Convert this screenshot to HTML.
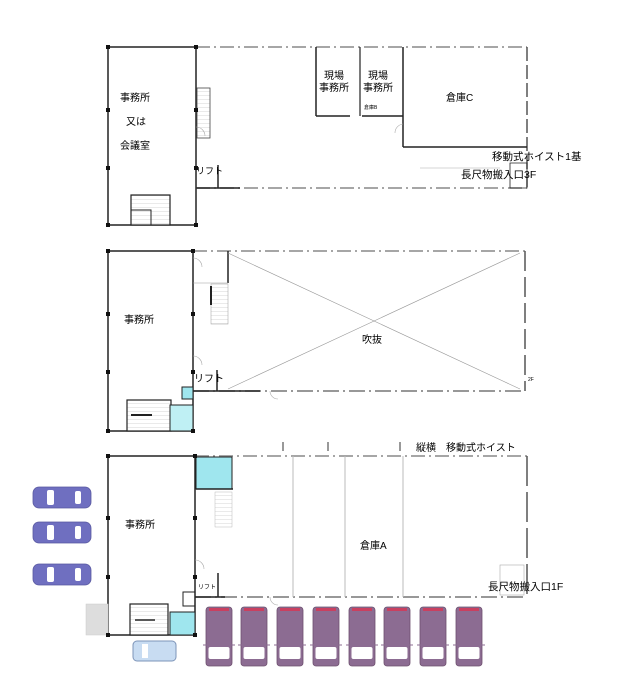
<!DOCTYPE html>
<html><head><meta charset="utf-8">
<style>
html,body{margin:0;padding:0;background:#fff;}
svg{display:block;}
text{font-family:"Liberation Sans","Noto Sans CJK JP",sans-serif;fill:#000;}
</style></head>
<body>
<svg width="620" height="691" viewBox="0 0 620 691" xmlns="http://www.w3.org/2000/svg">
<defs>
  <g id="bcar">
    <rect x="0" y="0" width="58" height="21" rx="6" fill="#6f6fc0" stroke="#5a5aa0" stroke-width="0.8"/>
    <rect x="14" y="3" width="7" height="15" rx="2" fill="#fff"/>
    <rect x="42" y="4" width="6" height="13" rx="2" fill="#fff"/>
  </g>
  <g id="pcar">
    <rect x="0" y="0" width="26" height="59" rx="3" fill="#8c6c92" stroke="#6e506f" stroke-width="0.8"/>
    <rect x="3" y="1" width="20" height="3" fill="#c94060"/>
    <rect x="2.5" y="40" width="21" height="12" rx="2" fill="#fff"/>
    <line x1="-3" y1="38" x2="29" y2="38" stroke="#8c6c92" stroke-width="1"/>
  </g>
  <pattern id="stair" width="5" height="4" patternUnits="userSpaceOnUse">
    <rect width="5" height="4" fill="#fff"/>
    <line x1="0" y1="4" x2="5" y2="4" stroke="#bbb" stroke-width="0.6"/>
  </pattern>
</defs>

<g stroke="#222" fill="none">
<!-- ===== 3F ===== -->
<rect x="108" y="47" width="88" height="178" stroke-width="1.5"/>
<line x1="196" y1="47" x2="527" y2="47" stroke="#888" stroke-width="1.5" stroke-dasharray="14 4 2 4"/>
<line x1="527" y1="47" x2="527" y2="188" stroke="#555" stroke-width="1.5" stroke-dasharray="14 4"/>
<line x1="196" y1="188" x2="527" y2="188" stroke="#888" stroke-width="1.5" stroke-dasharray="14 4 2 4"/>
<line x1="196" y1="188" x2="240" y2="188" stroke-width="1.5"/>
<line x1="316" y1="47" x2="316" y2="116" stroke-width="1.5"/>
<line x1="360" y1="47" x2="360" y2="116" stroke-width="1.2"/>
<line x1="403" y1="47" x2="403" y2="147" stroke-width="1.5"/>
<line x1="316" y1="116" x2="350" y2="116" stroke-width="1.5"/>
<line x1="362" y1="116" x2="403" y2="116" stroke-width="1.5"/>
<line x1="403" y1="147" x2="527" y2="147" stroke-width="1.5"/>
<rect x="197" y="88" width="13" height="50" fill="url(#stair)" stroke="#444" stroke-width="0.8"/>
<line x1="218" y1="165" x2="218" y2="188" stroke-width="1.5"/>
<rect x="131" y="195" width="39" height="30" fill="url(#stair)" stroke-width="1.2"/>
<rect x="131" y="210" width="20" height="15" stroke-width="1"/>
<path d="M510 163 h17 v25 h-17z" stroke-width="0.8"/>
<line x1="420" y1="168" x2="500" y2="168" stroke="#aaa" stroke-width="0.6"/>
<path d="M196 127 a9 9 0 0 1 9 9" stroke="#aaa" stroke-width="0.6"/>
<path d="M403 124 a9 9 0 0 0 -8 9" stroke="#aaa" stroke-width="0.6"/>

<!-- ===== 2F ===== -->
<rect x="108" y="251" width="85" height="180" stroke-width="1.5"/>
<line x1="193" y1="251" x2="525" y2="251" stroke="#888" stroke-width="1.5" stroke-dasharray="14 4 2 4"/>
<line x1="525" y1="251" x2="525" y2="391" stroke="#555" stroke-width="1.5" stroke-dasharray="20 6"/>
<line x1="193" y1="391" x2="525" y2="391" stroke="#777" stroke-width="1.5" stroke-dasharray="16 4 2 4"/>
<line x1="193" y1="391" x2="260" y2="391" stroke-width="1.5"/>
<line x1="228" y1="251" x2="228" y2="283" stroke-width="1.5"/>
<line x1="193" y1="283" x2="228" y2="283" stroke="#999" stroke-width="0.6"/>
<rect x="211" y="284" width="17" height="40" fill="url(#stair)" stroke="#999" stroke-width="0.5"/>
<line x1="211" y1="286" x2="211" y2="305" stroke-width="2"/>
<line x1="217" y1="370" x2="217" y2="391" stroke-width="1.5"/>
<line x1="228" y1="253" x2="520" y2="389" stroke="#999" stroke-width="0.6"/>
<line x1="520" y1="253" x2="228" y2="389" stroke="#999" stroke-width="0.6"/>
<rect x="127" y="400" width="44" height="31" fill="url(#stair)" stroke-width="1.2"/>
<line x1="131" y1="415" x2="152" y2="415" stroke-width="2"/>
<rect x="182" y="387" width="11" height="12" fill="#9fe6ee" stroke-width="1"/>
<rect x="170" y="405" width="23" height="26" fill="#bff0f4" stroke-width="1"/>
<path d="M193 258 a9 9 0 0 1 9 9" stroke="#aaa" stroke-width="0.6"/>
<path d="M193 356 a9 9 0 0 1 9 9" stroke="#aaa" stroke-width="0.6"/>
<path d="M270 391 a8 8 0 0 0 8 8" stroke="#aaa" stroke-width="0.6"/>

<!-- ===== 1F ===== -->
<rect x="108" y="456" width="87" height="179" stroke-width="1.5"/>
<line x1="195" y1="456" x2="527" y2="456" stroke="#888" stroke-width="1.5" stroke-dasharray="14 4 2 4"/>
<line x1="527" y1="456" x2="527" y2="597" stroke="#555" stroke-width="1.5" stroke-dasharray="30 6"/>
<line x1="195" y1="597" x2="527" y2="597" stroke="#777" stroke-width="1.5" stroke-dasharray="16 4 2 4"/>
<line x1="195" y1="597" x2="225" y2="597" stroke-width="1.5"/>
<line x1="293" y1="456" x2="293" y2="597" stroke="#bbb" stroke-width="1"/>
<line x1="345" y1="456" x2="345" y2="597" stroke="#bbb" stroke-width="1"/>
<line x1="403" y1="456" x2="403" y2="597" stroke="#bbb" stroke-width="1"/>
<rect x="196" y="457" width="36" height="32" fill="#9fe6ee" stroke-width="1"/>
<line x1="196" y1="489" x2="233" y2="489" stroke-width="1.5"/>
<rect x="215" y="492" width="17" height="35" fill="url(#stair)" stroke="#aaa" stroke-width="0.4"/>
<line x1="218" y1="573" x2="218" y2="597" stroke-width="1.5"/>
<rect x="130" y="604" width="38" height="31" fill="url(#stair)" stroke-width="1.2"/>
<line x1="135" y1="620" x2="155" y2="620" stroke-width="1.5"/>
<rect x="170" y="612" width="25" height="23" fill="#9fe6ee" stroke-width="1"/>
<rect x="183" y="592" width="12" height="14" stroke-width="1"/>
<rect x="86" y="604" width="22" height="31" fill="#ddd" stroke="#ccc" stroke-width="0.5"/>
<rect x="500" y="565" width="24" height="30" stroke="#aaa" stroke-width="0.6"/>
<path d="M195 560 a9 9 0 0 1 9 9" stroke="#aaa" stroke-width="0.6"/>
<path d="M270 597 a8 8 0 0 0 8 8" stroke="#aaa" stroke-width="0.6"/>
<g stroke="#333" stroke-width="1">
<line x1="283" y1="442" x2="283" y2="451"/><line x1="328" y1="442" x2="328" y2="451"/><line x1="400" y1="442" x2="400" y2="451"/>
</g>
</g>

<!-- columns -->
<g fill="#111">
<rect x="106" y="45" width="4" height="4"/><rect x="194" y="45" width="4" height="4"/>
<rect x="106" y="108" width="4" height="4"/><rect x="194" y="108" width="4" height="4"/>
<rect x="106" y="166" width="4" height="4"/><rect x="194" y="166" width="4" height="4"/>
<rect x="106" y="223" width="4" height="4"/><rect x="194" y="223" width="4" height="4"/>
<rect x="106" y="249" width="4" height="4"/><rect x="191" y="249" width="4" height="4"/>
<rect x="106" y="312" width="4" height="4"/><rect x="191" y="312" width="4" height="4"/>
<rect x="106" y="370" width="4" height="4"/><rect x="191" y="370" width="4" height="4"/>
<rect x="106" y="429" width="4" height="4"/><rect x="191" y="429" width="4" height="4"/>
<rect x="106" y="454" width="4" height="4"/><rect x="193" y="454" width="4" height="4"/>
<rect x="106" y="516" width="4" height="4"/><rect x="193" y="516" width="4" height="4"/>
<rect x="106" y="575" width="4" height="4"/><rect x="193" y="575" width="4" height="4"/>
<rect x="106" y="633" width="4" height="4"/><rect x="193" y="633" width="4" height="4"/>
</g>

<!-- cars -->
<use href="#bcar" x="33" y="487"/>
<use href="#bcar" x="33" y="522"/>
<use href="#bcar" x="33" y="564"/>
<use href="#pcar" x="206" y="607"/>
<use href="#pcar" x="241" y="607"/>
<use href="#pcar" x="277" y="607"/>
<use href="#pcar" x="313" y="607"/>
<use href="#pcar" x="349" y="607"/>
<use href="#pcar" x="384" y="607"/>
<use href="#pcar" x="420" y="607"/>
<use href="#pcar" x="456" y="607"/>
<g>
  <rect x="133" y="641" width="43" height="20" rx="4" fill="#c8dcf2" stroke="#7d94b8" stroke-width="1"/>
  <rect x="142" y="644" width="6" height="14" fill="#fff"/>
</g>

<!-- labels -->
<g font-size="10">
<text x="120" y="101">事務所</text>
<text x="126" y="125">又は</text>
<text x="120" y="149">会議室</text>
<text x="324" y="79">現場</text><text x="319" y="91">事務所</text>
<text x="368" y="79">現場</text><text x="363" y="91">事務所</text>
<text x="446" y="101">倉庫C</text>
<text x="196" y="174" font-size="9">リフト</text>
<text x="492" y="160" font-size="10.5">移動式ホイスト1基</text>
<text x="461" y="178" font-size="10.5">長尺物搬入口3F</text>
<text x="124" y="323">事務所</text>
<text x="362" y="343">吹抜</text>
<text x="194" y="382" font-size="10">リフト</text>
<text x="528" y="381" font-size="5">2F</text>
<text x="416" y="451" font-size="10">縦横　移動式ホイスト</text>
<text x="125" y="528">事務所</text>
<text x="360" y="549">倉庫A</text>
<text x="198" y="589" font-size="6">リフト</text>
<text x="488" y="590" font-size="10.5">長尺物搬入口1F</text>
<text x="364" y="109" font-size="5">倉庫B</text>
</g>
</svg>
</body></html>
